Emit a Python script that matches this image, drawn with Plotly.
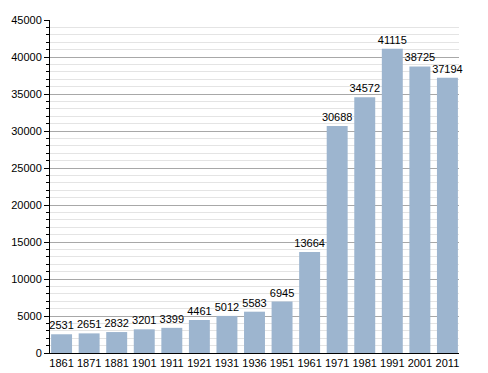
import plotly.graph_objects as go

years = ["1861", "1871", "1881", "1901", "1911", "1921", "1931", "1936", "1951",
         "1961", "1971", "1981", "1991", "2001", "2011"]
population = [2531, 2651, 2832, 3201, 3399, 4461, 5012, 5583, 6945,
              13664, 30688, 34572, 41115, 38725, 37194]
y_ticks = [0, 5000, 10000, 15000, 20000, 25000, 30000, 35000, 40000, 45000]

fig = go.Figure(go.Bar(
    x=years, y=population,
    marker=dict(color="#9db5cf", line=dict(width=0)),
    text=[str(v) for v in population], textposition="outside",
    textfont=dict(family="Liberation Sans, Arial", size=11, color="#000000"),
    cliponaxis=False,
    constraintext="none",
))

fig.update_layout(
    width=488, height=373,
    margin=dict(l=50, r=29, t=20, b=20, autoexpand=False),
    paper_bgcolor="white", plot_bgcolor="white",
    bargap=0.24,
    showlegend=False,
    font=dict(family="Liberation Sans, Arial", size=11, color="#000000"),
    uniformtext=dict(minsize=11, mode="show"),
)
fig.update_xaxes(
    type="category", range=[-0.42, len(years) - 1 + 0.42],
    showline=True, linecolor="#000000", linewidth=1,
    ticks="", showgrid=False, tickfont=dict(size=11), automargin=False,
)
fig.update_yaxes(
    range=[0, 45000], tickvals=y_ticks, ticktext=[str(v) for v in y_ticks],
    showline=True, linecolor="#000000", linewidth=1,
    ticks="outside", ticklen=5, tickcolor="#000000",
    showgrid=True, gridcolor="#a8a8a8", gridwidth=1,
    minor=dict(dtick=1000, ticks="outside", ticklen=3, tickcolor="#000000",
               showgrid=True, gridcolor="#e4e4e4", gridwidth=1),
    zeroline=False, tickfont=dict(size=11), automargin=False,
)

fig.write_html("out.html", config={"displayModeBar": False},
               post_script="document.body.style.margin='0';document.body.style.overflow='hidden';")
